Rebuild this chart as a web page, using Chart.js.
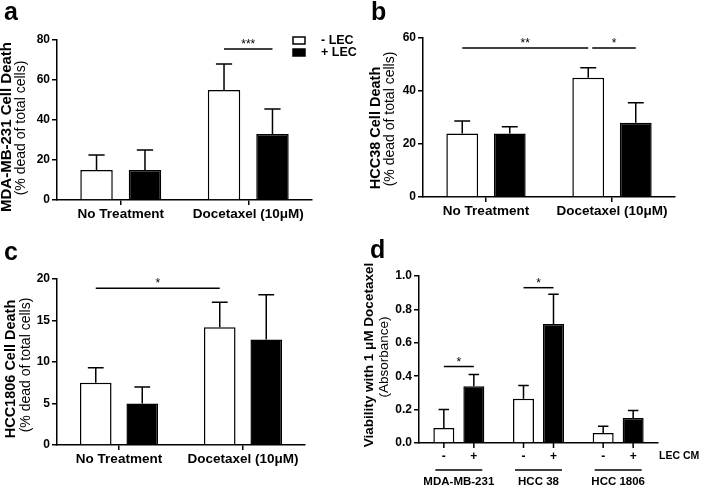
<!DOCTYPE html>
<html>
<head>
<meta charset="utf-8">
<script src="https://cdn.jsdelivr.net/npm/chart.js@4.4.1/dist/chart.umd.min.js"></script>
<style>
  html, body { margin: 0; padding: 0; background: #fff; }
  #fig { position: relative; width: 701px; height: 486px; font-family: 'Liberation Sans', Arial, sans-serif; }
  .panel { position: absolute; }
  .tag { position: absolute; font-weight: bold; font-size: 25px; line-height: 1; color: #000; }
</style>
</head>
<body>
<div id="fig">
  <div class="panel" style="left:0;top:0;width:365px;height:240px"><canvas id="chartA"></canvas></div>
  <div class="panel" style="left:350px;top:0;width:351px;height:240px"><canvas id="chartB"></canvas></div>
  <div class="panel" style="left:0;top:240px;width:350px;height:246px"><canvas id="chartC"></canvas></div>
  <div class="panel" style="left:350px;top:240px;width:351px;height:246px"><canvas id="chartD"></canvas></div>
  <div class="tag" style="left:4px;top:-1px">a</div>
  <div class="tag" style="left:371px;top:-1px">b</div>
  <div class="tag" style="left:4px;top:239px">c</div>
  <div class="tag" style="left:370px;top:237px">d</div>
</div>
<script>
// ---- data ----
const treatments = ['No Treatment', 'Docetaxel (10μM)'];
const seriesNames = ['- LEC', '+ LEC'];

// a: MDA-MB-231 cell death (%)
const mdaMinus = [15, 55];
const mdaMinusErr = [7.5, 13];
const mdaPlus = [15, 33];
const mdaPlusErr = [10, 12.5];

// b: HCC38 cell death (%)
const hcc38Minus = [24, 45];
const hcc38MinusErr = [4.7, 3.8];
const hcc38Plus = [24, 28];
const hcc38PlusErr = [2.5, 7.6];

// c: HCC1806 cell death (%)
const hcc1806Minus = [7.5, 14.2];
const hcc1806MinusErr = [1.8, 3.0];
const hcc1806Plus = [5.0, 12.7];
const hcc1806PlusErr = [2.0, 5.4];

// d: viability with 1 uM docetaxel (absorbance)
const cellLines = ['MDA-MB-231', 'HCC 38', 'HCC 1806'];
const cmSigns = ['-', '+'];
const viabMinus = [0.09, 0.265, 0.06];
const viabMinusErr = [0.11, 0.08, 0.04];
const viabPlus = [0.34, 0.713, 0.15];
const viabPlusErr = [0.07, 0.177, 0.045];

// y ticks
const yTicksA = [0, 20, 40, 60, 80];
const yTicksB = [0, 20, 40, 60];
const yTicksC = [0, 5, 10, 15, 20];
const yTicksD = [0, 0.2, 0.4, 0.6, 0.8, 1.0];

const FONT = "'Liberation Sans', Arial, sans-serif";
const AXIS_W = 30, AXIS_H = 30;

// error bars, significance lines, titles, legend, panel d labels
const extras = {
  id: 'extras',
  afterDatasetsDraw(chart, args, o) {
    const ctx = chart.ctx;
    const y = chart.scales.y;
    const area = chart.chartArea;
    ctx.save();
    ctx.strokeStyle = '#000';
    ctx.fillStyle = '#000';
    ctx.lineWidth = 1.5;

    chart.data.datasets.forEach((ds, di) => {
      chart.getDatasetMeta(di).data.forEach((bar, i) => {
        const top = y.getPixelForValue(ds.data[i] + ds.errors[i]);
        const half = bar.width / 4;
        ctx.beginPath();
        ctx.moveTo(bar.x, bar.y);
        ctx.lineTo(bar.x, top);
        ctx.moveTo(bar.x - half, top);
        ctx.lineTo(bar.x + half, top);
        ctx.stroke();
      });
    });

    const barAt = (d, i) => chart.getDatasetMeta(d).data[i];
    (o.sigs || []).forEach(s => {
      const x1 = barAt(s.from[0], s.from[1]).x + (s.pad || 0);
      const x2 = barAt(s.to[0], s.to[1]).x;
      const py = y.getPixelForValue(s.value);
      ctx.beginPath();
      ctx.moveTo(x1, py);
      ctx.lineTo(x2, py);
      ctx.stroke();
      ctx.font = '12px ' + FONT;
      ctx.textAlign = 'center';
      ctx.textBaseline = 'alphabetic';
      ctx.fillText(s.text, (x1 + x2) / 2, py - 1);
    });

    (o.titles || []).forEach(t => {
      ctx.save();
      ctx.translate(t.x, t.y);
      ctx.rotate(-Math.PI / 2);
      ctx.font = (t.bold ? 'bold ' : '') + t.size + 'px ' + FONT;
      ctx.textAlign = 'center';
      ctx.textBaseline = 'middle';
      ctx.fillText(t.text, 0, 0);
      ctx.restore();
    });

    if (o.legend) {
      const L = o.legend;
      chart.data.datasets.forEach((ds, di) => {
        const ry = L.y + di * 12;
        ctx.fillStyle = ds.backgroundColor;
        ctx.fillRect(L.x, ry, 12, 7);
        ctx.lineWidth = 1.5;
        ctx.strokeRect(L.x, ry, 12, 7);
        ctx.fillStyle = '#000';
        ctx.font = 'bold 12.5px ' + FONT;
        ctx.textAlign = 'left';
        ctx.textBaseline = 'middle';
        ctx.fillText(ds.label, L.x + 28, ry + 4);
      });
    }

    if (o.groups) {
      ctx.textAlign = 'center';
      ctx.textBaseline = 'middle';
      chart.data.labels.forEach((lab, i) => {
        const bars = chart.data.datasets.map((ds, di) => barAt(di, i));
        ctx.font = 'bold 12px ' + FONT;
        bars.forEach((b, di) => {
          ctx.beginPath();
          ctx.moveTo(b.x, area.bottom);
          ctx.lineTo(b.x, area.bottom + 5);
          ctx.stroke();
          ctx.fillText(cmSigns[di], b.x, area.bottom + 14);
        });
        const gl = bars[0].x - bars[0].width / 2 + 2;
        const gr = bars[1].x + bars[1].width / 2 - 2;
        ctx.beginPath();
        ctx.moveTo(gl, area.bottom + 27);
        ctx.lineTo(gr, area.bottom + 27);
        ctx.stroke();
        ctx.font = 'bold 11.5px ' + FONT;
        ctx.fillText(lab, (gl + gr) / 2, area.bottom + 39);
      });
      ctx.font = 'bold 10.5px ' + FONT;
      ctx.textAlign = 'left';
      ctx.fillText(o.groups.note, area.right + 1, area.bottom + 13);
    }
    ctx.restore();
  }
};

function buildChart(id, p) {
  const ds = (label, data, errors, fill) => ({
    label, data, errors,
    backgroundColor: fill, borderColor: '#000', borderWidth: 1.5,
    categoryPercentage: p.cat, barPercentage: p.bar
  });
  return new Chart(document.getElementById(id), {
    type: 'bar',
    data: {
      labels: p.labels,
      datasets: [
        ds(seriesNames[0], p.minus, p.minusErr, '#ffffff'),
        ds(seriesNames[1], p.plus, p.plusErr, '#000000')
      ]
    },
    options: {
      responsive: true,
      maintainAspectRatio: false,
      animation: false,
      layout: {
        padding: {
          left: p.area.l - AXIS_W,
          right: p.w - p.area.r,
          top: p.area.t,
          bottom: p.h - p.area.b - AXIS_H
        }
      },
      plugins: {
        legend: { display: false },
        tooltip: { enabled: false },
        extras: { sigs: p.sigs, titles: p.titles, legend: p.legend, groups: p.groups }
      },
      scales: {
        x: {
          afterFit: s => { s.height = AXIS_H; },
          grid: { display: p.xLabels, offset: false, drawOnChartArea: false, tickLength: 5, color: '#000', lineWidth: 1.5 },
          border: { color: '#000', width: 1.5 },
          ticks: { display: p.xLabels, color: '#000', padding: 1, maxRotation: 0, autoSkip: false,
                   font: { family: FONT, size: 13.5, weight: 'bold' } }
        },
        y: {
          min: 0,
          max: p.yTicks[p.yTicks.length - 1],
          afterFit: s => { s.width = AXIS_W; },
          afterBuildTicks: s => { s.ticks = p.yTicks.map(v => ({ value: v })); },
          grid: { drawOnChartArea: false, tickLength: 5, color: '#000', lineWidth: 1.5 },
          border: { color: '#000', width: 1.5 },
          ticks: { color: '#000', padding: 2, callback: v => p.fmt(v),
                   font: { family: FONT, size: 12, weight: 'bold' } }
        }
      }
    },
    plugins: [extras]
  });
}

const intFmt = v => String(v);

buildChart('chartA', {
  w: 365, h: 240, area: { l: 57, r: 312, t: 40, b: 200 }, cat: 0.76, bar: 0.67,
  labels: treatments, minus: mdaMinus, minusErr: mdaMinusErr, plus: mdaPlus, plusErr: mdaPlusErr,
  yTicks: yTicksA, fmt: intFmt, xLabels: true,
  sigs: [{ from: [0, 1], to: [1, 1], value: 75.5, text: '***' }],
  titles: [
    { text: 'MDA-MB-231 Cell Death', bold: true, size: 15, x: 7, y: 127 },
    { text: '(% dead of total cells)', bold: false, size: 14, x: 21, y: 128 }
  ],
  legend: { x: 293, y: 37 }
});

buildChart('chartB', {
  w: 351, h: 240, area: { l: 73, r: 325, t: 38, b: 197 }, cat: 0.754, bar: 0.67,
  labels: treatments, minus: hcc38Minus, minusErr: hcc38MinusErr, plus: hcc38Plus, plusErr: hcc38PlusErr,
  yTicks: yTicksB, fmt: intFmt, xLabels: true,
  sigs: [
    { from: [0, 0], to: [0, 1], value: 56.2, text: '**' },
    { from: [0, 1], to: [1, 1], value: 56.2, text: '*', pad: 4 }
  ],
  titles: [
    { text: 'HCC38 Cell Death', bold: true, size: 14.5, x: 26, y: 128 },
    { text: '(% dead of total cells)', bold: false, size: 14, x: 40, y: 119 }
  ]
});

buildChart('chartC', {
  w: 350, h: 246, area: { l: 57, r: 305, t: 39, b: 205 }, cat: 0.75, bar: 0.68,
  labels: treatments, minus: hcc1806Minus, minusErr: hcc1806MinusErr, plus: hcc1806Plus, plusErr: hcc1806PlusErr,
  yTicks: yTicksC, fmt: intFmt, xLabels: true,
  sigs: [{ from: [0, 0], to: [0, 1], value: 18.9, text: '*' }],
  titles: [
    { text: 'HCC1806 Cell Death', bold: true, size: 14.5, x: 11, y: 129 },
    { text: '(% dead of total cells)', bold: false, size: 14, x: 26, y: 125 }
  ]
});

buildChart('chartD', {
  w: 351, h: 246, area: { l: 69, r: 308, t: 36, b: 203 }, cat: 0.753, bar: 0.7,
  labels: cellLines, minus: viabMinus, minusErr: viabMinusErr, plus: viabPlus, plusErr: viabPlusErr,
  yTicks: yTicksD, fmt: v => v.toFixed(1), xLabels: false,
  sigs: [
    { from: [0, 0], to: [1, 0], value: 0.458, text: '*' },
    { from: [0, 1], to: [1, 1], value: 0.93, text: '*' }
  ],
  titles: [
    { text: 'Viability with 1 μM Docetaxel', bold: true, size: 13.5, x: 19, y: 115 },
    { text: '(Absorbance)', bold: false, size: 13.5, x: 34, y: 117 }
  ],
  groups: { note: 'LEC CM' }
});
</script>
</body>
</html>
